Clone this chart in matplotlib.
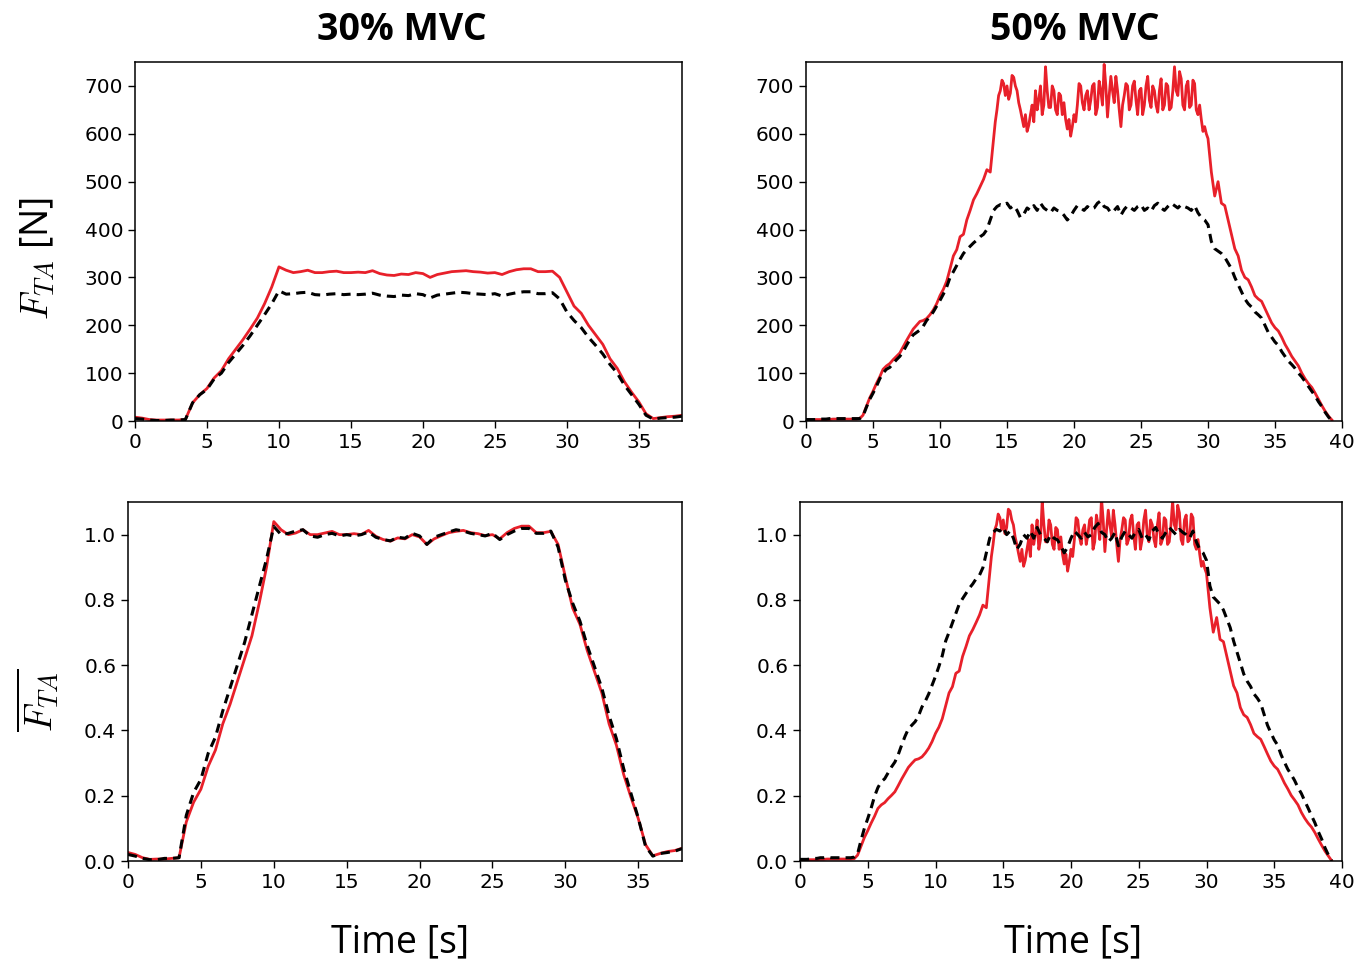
import matplotlib
matplotlib.use('Agg')
import matplotlib.pyplot as plt
import numpy as np

plt.rcParams['mathtext.fontset'] = 'cm'

# ---- 30% MVC, sampled every 0.5 s ----
red30_force = [8, 6, 3, 2, 2, 2, 2, 3,
               38, 55, 68, 90, 105, 130, 150, 170, 192, 215, 245, 280,
               322, 315, 310, 312, 315, 310, 310, 312, 313, 310,
               310, 311, 310, 314, 308, 305, 304, 307, 306, 310,
               308, 300, 306, 309, 312, 313, 314, 312, 311, 309,
               310, 306, 312, 316, 318, 318, 312, 312, 313, 300,
               270, 240, 225, 200, 180, 160, 130, 110, 82, 60,
               40, 15, 5, 7, 9, 10, 12]
black30_force = [5, 4, 2, 1, 1, 2, 2, 3,
                 38, 55, 66, 88, 100, 122, 140, 158, 178, 200, 222, 245,
                 272, 265, 266, 268, 269, 264, 263, 265, 266, 264,
                 265, 264, 265, 267, 263, 261, 260, 263, 262, 266,
                 264, 257, 263, 265, 267, 269, 268, 266, 265, 264,
                 266, 261, 265, 268, 270, 270, 266, 266, 268, 255,
                 228, 210, 195, 175, 158, 140, 118, 100, 75, 55,
                 35, 12, 4, 6, 7, 8, 10]
red30_norm = [0.026, 0.02, 0.01, 0.005, 0.006, 0.006, 0.008, 0.01,
              0.12, 0.18, 0.22, 0.29, 0.34, 0.42, 0.48, 0.55, 0.62, 0.69, 0.79, 0.9,
              1.04, 1.015, 1.0, 1.005, 1.015, 1.0, 1.0, 1.005, 1.01, 1.0,
              1.0, 1.003, 1.0, 1.013, 0.995, 0.985, 0.98, 0.99, 0.987, 1.0,
              0.993, 0.97, 0.987, 0.997, 1.006, 1.01, 1.013, 1.006, 1.003, 0.997,
              1.0, 0.987, 1.006, 1.019, 1.026, 1.026, 1.006, 1.006, 1.01, 0.97,
              0.87, 0.775, 0.725, 0.645, 0.58, 0.515, 0.42, 0.355, 0.265, 0.195,
              0.13, 0.05, 0.016, 0.023, 0.029, 0.032, 0.039]
black30_norm = [0.02, 0.015, 0.008, 0.004, 0.004, 0.008, 0.008, 0.01,
                0.14, 0.21, 0.25, 0.33, 0.38, 0.46, 0.53, 0.6, 0.67, 0.755, 0.84, 0.925,
                1.025, 1.0, 1.004, 1.011, 1.015, 0.996, 0.992, 1.0, 1.004, 0.996,
                1.0, 0.996, 1.0, 1.008, 0.992, 0.985, 0.981, 0.992, 0.989, 1.004,
                0.996, 0.97, 0.992, 1.0, 1.008, 1.015, 1.011, 1.004, 1.0, 0.996,
                1.004, 0.985, 1.0, 1.011, 1.019, 1.019, 1.004, 1.004, 1.011, 0.962,
                0.86, 0.79, 0.735, 0.66, 0.595, 0.53, 0.445, 0.375, 0.283, 0.207,
                0.132, 0.045, 0.015, 0.023, 0.026, 0.03, 0.038]

# ---- 50% MVC, red: 0.25 s on the ramps, 0.125 s on the hold (14-30 s) ----
red50_force_rise = [2, 2, 2, 3, 3, 3, 3, 3, 4, 4, 4, 4, 4, 4, 4, 4,
                    5, 12, 30, 48, 62, 78, 92, 108, 115, 120, 128, 135,
                    142, 155, 168, 180, 192, 200, 208, 210, 214, 222, 232, 245,
                    262, 275, 292, 318, 345, 358, 385, 390, 420, 440, 462, 475,
                    490, 505, 525, 520]
red50_force_hold = [590, 625, 650, 680, 690, 712, 705, 680, 700, 672, 685, 722, 718, 700, 690, 665,
                    650, 632, 615, 640, 605, 618, 640, 660, 625, 690, 650, 672, 700, 640, 660, 740,
                    690, 655, 655, 700, 690, 650, 640, 685, 680, 640, 665, 630, 610, 630, 595, 615,
                    640, 625, 660, 705, 700, 665, 650, 680, 690, 650, 670, 700, 705, 640, 655, 710,
                    690, 660, 745, 700, 635, 680, 720, 690, 665, 720, 690, 650, 615, 660, 680, 705,
                    700, 650, 660, 700, 710, 670, 640, 690, 695, 640, 660, 700, 720, 670, 655, 700,
                    690, 660, 645, 690, 715, 650, 660, 705, 700, 650, 655, 690, 740, 690, 680, 730,
                    715, 660, 650, 700, 710, 655, 660, 712, 705, 650, 640, 660, 630, 605, 615, 600]
red50_force_fall = [590, 520, 470, 500, 455, 450, 420, 390, 360, 345, 315, 300,
                    295, 280, 262, 255, 250, 235, 220, 205, 195, 188, 175, 160,
                    148, 135, 125, 115, 100, 88, 78, 70, 58, 45, 32, 20, 10, 2]
red50_norm_rise = [0.003, 0.003, 0.003, 0.004, 0.004, 0.004, 0.005, 0.005,
                   0.006, 0.006, 0.006, 0.006, 0.006, 0.006, 0.006, 0.006,
                   0.007, 0.018, 0.045, 0.072, 0.093, 0.116, 0.137, 0.161,
                   0.172, 0.179, 0.191, 0.201, 0.212, 0.231, 0.251, 0.269,
                   0.287, 0.299, 0.31, 0.313, 0.319, 0.331, 0.346, 0.366,
                   0.391, 0.41, 0.436, 0.475, 0.515, 0.534, 0.575, 0.582,
                   0.627, 0.657, 0.69, 0.709, 0.731, 0.754, 0.784, 0.776]
red50_norm_hold = [0.881, 0.933, 0.97, 1.015, 1.03, 1.063, 1.052, 1.015,
                   1.045, 1.003, 1.022, 1.078, 1.072, 1.045, 1.03, 0.993,
                   0.97, 0.943, 0.918, 0.955, 0.903, 0.922, 0.955, 0.985,
                   0.933, 1.03, 0.97, 1.003, 1.045, 0.955, 0.985, 1.104,
                   1.03, 0.978, 0.978, 1.045, 1.03, 0.97, 0.955, 1.022,
                   1.015, 0.955, 0.993, 0.94, 0.91, 0.94, 0.888, 0.918,
                   0.955, 0.933, 0.985, 1.052, 1.045, 0.993, 0.97, 1.015,
                   1.03, 0.97, 1.0, 1.045, 1.052, 0.955, 0.978, 1.06,
                   1.03, 0.985, 1.112, 1.045, 0.948, 1.015, 1.075, 1.03,
                   0.993, 1.075, 1.03, 0.97, 0.918, 0.985, 1.015, 1.052,
                   1.045, 0.97, 0.985, 1.045, 1.06, 1.0, 0.955, 1.03,
                   1.037, 0.955, 0.985, 1.045, 1.075, 1.0, 0.978, 1.045,
                   1.03, 0.985, 0.963, 1.03, 1.067, 0.97, 0.985, 1.052,
                   1.045, 0.97, 0.978, 1.03, 1.104, 1.03, 1.015, 1.09,
                   1.067, 0.985, 0.97, 1.045, 1.06, 0.978, 0.985, 1.063,
                   1.052, 0.97, 0.955, 0.985, 0.94, 0.903, 0.918, 0.896]
red50_norm_fall = [0.881, 0.776, 0.701, 0.746, 0.679, 0.672, 0.627, 0.582,
                   0.537, 0.515, 0.47, 0.448, 0.44, 0.418, 0.391, 0.381,
                   0.373, 0.351, 0.328, 0.306, 0.291, 0.281, 0.261, 0.239,
                   0.221, 0.201, 0.187, 0.172, 0.149, 0.131, 0.116, 0.104,
                   0.087, 0.067, 0.048, 0.03, 0.015, 0.0]

# ---- 50% MVC, black: every 0.25 s ----
black50_force = [3, 3, 3, 3, 4, 4, 4, 5, 5, 5, 5, 5, 5, 5, 5, 5,
                 5, 10, 28, 45, 58, 72, 88, 100, 108, 112, 120, 128,
                 135, 145, 158, 170, 180, 185, 190, 198, 210, 218, 228, 240,
                 252, 265, 280, 300, 312, 325, 338, 350, 358, 365, 372, 378,
                 385, 390, 400, 420, 440, 448, 452, 450, 455, 445, 450, 440,
                 425, 432, 445, 440, 450, 440, 455, 445, 440, 435, 445, 440,
                 438, 430, 420, 428, 440, 450, 445, 440, 448, 442, 445, 455,
                 460, 448, 445, 435, 440, 448, 430, 442, 450, 445, 440, 448,
                 452, 440, 445, 438, 450, 455, 445, 440, 448, 455, 450, 445,
                 452, 448, 445, 440, 450, 435, 425, 420, 410, 375, 360, 355,
                 350, 342, 330, 318, 300, 285, 270, 255, 245, 238, 228, 222,
                 215, 200, 185, 175, 165, 158, 145, 135, 125, 118, 110, 100,
                 92, 82, 72, 62, 52, 40, 30, 18, 8, 0]
black50_norm = [0.005, 0.005, 0.005, 0.006, 0.008, 0.008, 0.01, 0.01,
                0.012, 0.01, 0.01, 0.01, 0.01, 0.01, 0.01, 0.01,
                0.012, 0.022, 0.063, 0.1, 0.13, 0.162, 0.198, 0.225,
                0.243, 0.252, 0.27, 0.288, 0.303, 0.326, 0.355, 0.382,
                0.405, 0.416, 0.427, 0.445, 0.472, 0.49, 0.512, 0.539,
                0.566, 0.596, 0.629, 0.674, 0.701, 0.73, 0.76, 0.787,
                0.804, 0.82, 0.836, 0.849, 0.865, 0.876, 0.899, 0.944,
                0.989, 1.007, 1.016, 1.011, 1.022, 1.0, 1.011, 0.989,
                0.955, 0.971, 1.0, 0.989, 1.011, 0.989, 1.022, 1.0,
                0.989, 0.978, 1.0, 0.989, 0.984, 0.966, 0.944, 0.962,
                0.989, 1.011, 1.0, 0.989, 1.007, 0.993, 1.0, 1.022,
                1.034, 1.007, 1.0, 0.978, 0.989, 1.007, 0.966, 0.993,
                1.011, 1.0, 0.989, 1.007, 1.016, 0.989, 1.0, 0.984,
                1.011, 1.022, 1.0, 0.989, 1.007, 1.022, 1.011, 1.0,
                1.016, 1.007, 1.0, 0.989, 1.011, 0.978, 0.955, 0.944,
                0.921, 0.843, 0.809, 0.798, 0.787, 0.769, 0.742, 0.715,
                0.674, 0.64, 0.607, 0.573, 0.551, 0.535, 0.512, 0.499,
                0.483, 0.449, 0.416, 0.393, 0.371, 0.355, 0.326, 0.303,
                0.281, 0.265, 0.247, 0.225, 0.207, 0.184, 0.162, 0.139,
                0.117, 0.09, 0.067, 0.04, 0.018, 0.0]

t30 = np.arange(len(red30_force)) * 0.5
t50 = np.arange(len(black50_force)) * 0.25
t50_red = np.r_[np.arange(len(red50_force_rise)) * 0.25,
                14 + np.arange(len(red50_force_hold)) * 0.125,
                30 + np.arange(len(red50_force_fall)) * 0.25]
red50_force = red50_force_rise + red50_force_hold + red50_force_fall
red50_norm = red50_norm_rise + red50_norm_hold + red50_norm_fall

red = '#e8202a'
W, H = 1369, 963
fig = plt.figure(figsize=(W / 100, H / 100), dpi=100)

def box(l, r, top, bot):
    return [l / W, 1 - bot / H, (r - l) / W, (bot - top) / H]

ax_tl = fig.add_axes(box(135, 682, 62, 421))
ax_tr = fig.add_axes(box(806, 1342, 62, 421))
ax_bl = fig.add_axes(box(128, 682, 502, 861))
ax_br = fig.add_axes(box(800, 1342, 502, 861))

panels = [
    (ax_tl, t30, red30_force, t30, black30_force, 38, 750, np.arange(0, 701, 100)),
    (ax_tr, t50_red, red50_force, t50, black50_force, 40, 750, np.arange(0, 701, 100)),
    (ax_bl, t30, red30_norm, t30, black30_norm, 38, 1.1, [0.0, 0.2, 0.4, 0.6, 0.8, 1.0]),
    (ax_br, t50_red, red50_norm, t50, black50_norm, 40, 1.1, [0.0, 0.2, 0.4, 0.6, 0.8, 1.0]),
]
for ax, tr, r, tk, k, xmax, ymax, yt in panels:
    ax.plot(tr, r, color=red, lw=2.0)
    ax.plot(tk, k, color='black', lw=2.2, ls=(0, (3, 2)))
    ax.set_xlim(0, xmax)
    ax.set_ylim(0, ymax)
    ax.set_yticks(yt)
    ax.set_xticks(np.arange(0, xmax + 1, 5))
    ax.tick_params(labelsize=14.5, length=5, width=1)
    for s in ax.spines.values():
        s.set_linewidth(1.1)
for ax in (ax_bl, ax_br):
    ax.set_yticklabels(['0.0', '0.2', '0.4', '0.6', '0.8', '1.0'])

fig.text(402 / W, 1 - 30 / H, '30% MVC', ha='center', va='center',
         fontsize=27, fontweight='bold', family='Open Sans')
fig.text(1075 / W, 1 - 30 / H, '50% MVC', ha='center', va='center',
         fontsize=27, fontweight='bold', family='Open Sans')

fig.text(38 / W, 1 - 258 / H, r'$F_{TA}$ [N]', rotation=90, ha='center',
         va='center', fontsize=27, family='Open Sans')
fig.text(38 / W, 1 - 700 / H, r'$\overline{F_{TA}}$', rotation=90,
         ha='center', va='center', fontsize=27)

fig.text(400 / W, 1 - 942 / H, 'Time [s]', ha='center', va='center',
         fontsize=27, family='Open Sans')
fig.text(1073 / W, 1 - 942 / H, 'Time [s]', ha='center', va='center',
         fontsize=27, family='Open Sans')

fig.savefig('out.png', dpi=100)
